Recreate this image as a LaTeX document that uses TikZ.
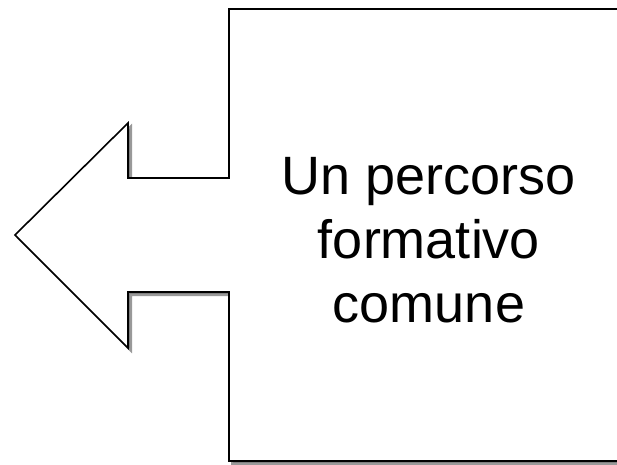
\documentclass[tikz,border=0pt]{standalone}
\usepackage{fontspec}
\setmainfont{Liberation Sans}
\begin{document}
\begin{tikzpicture}[x=1pt,y=-1pt,
  callout/.style={draw=black,line width=1.6pt,fill=white,line join=miter},
  calloutshadow/.style={fill=black!50,draw=black!40,line width=2pt},
  label/.style={align=center,font=\fontsize{54}{64}\selectfont}]
\useasboundingbox (0,0) rectangle (617,464);
\def\calloutpath{(229,9) -- (625,9) -- (625,461) -- (229,461) -- (229,292) -- (128,292) -- (128,348) -- (15,235) -- (128,123) -- (128,178) -- (229,178) -- cycle}
\begin{scope}[shift={(3,3)}]
  \path[calloutshadow] \calloutpath;
\end{scope}
\path[callout] \calloutpath;
\node[label] (t) at (429,240) {Un percorso\\formativo\\comune};
\end{tikzpicture}
\end{document}
